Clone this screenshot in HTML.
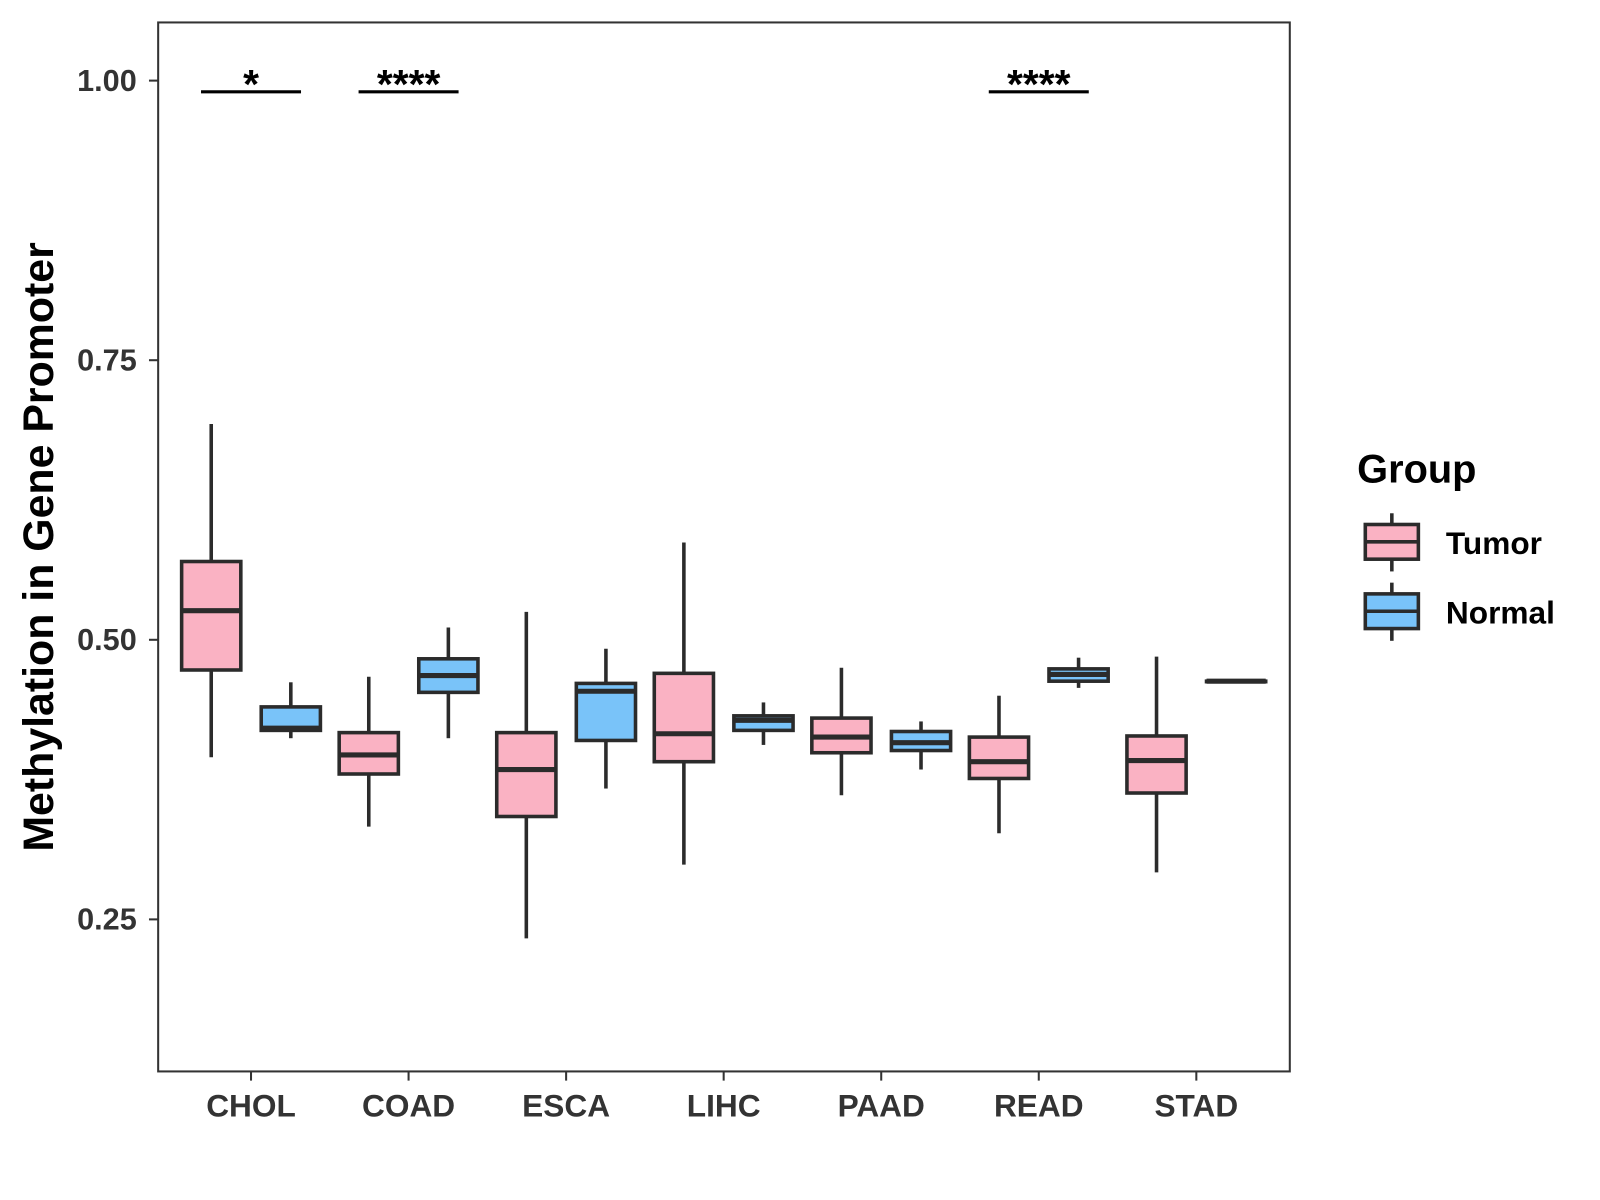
<!DOCTYPE html>
<html><head><meta charset="utf-8"><style>
html,body{margin:0;padding:0;background:#fff;}
svg{display:block;font-family:"Liberation Sans",Arial,sans-serif;}
</style></head><body>
<svg id="chart" width="1600" height="1200" viewBox="0 0 1568 1176" preserveAspectRatio="none" xmlns="http://www.w3.org/2000/svg">
<rect x="0" y="0" width="1568" height="1176" fill="#fff"/>
<rect x="155" y="22" width="1109" height="1028" fill="none" stroke="#333" stroke-width="2"/>
<g id="yaxis"></g>
<g id="xaxis"></g>
<g id="boxes"></g>
<g id="sig"></g>
<text x="52" y="536" transform="rotate(-90 52 536)" text-anchor="middle" font-size="42" font-weight="bold" fill="#000">Methylation in Gene Promoter</text>
<g>
<text x="1330" y="473" font-size="39" font-weight="bold" fill="#000">Group</text>
<g>
<line x1="1364" y1="503" x2="1364" y2="560" stroke="#2b2b2b" stroke-width="3.5"/>
<rect x="1338" y="514" width="52" height="34" fill="#FAB2C3" stroke="#2b2b2b" stroke-width="3.5"/>
<line x1="1338" y1="531" x2="1390" y2="531" stroke="#2b2b2b" stroke-width="3.5"/>
<text x="1417" y="543" font-size="31" font-weight="bold" fill="#000">Tumor</text>
</g>
<g>
<line x1="1364" y1="571" x2="1364" y2="628" stroke="#2b2b2b" stroke-width="3.5"/>
<rect x="1338" y="582" width="52" height="34" fill="#79C3F9" stroke="#2b2b2b" stroke-width="3.5"/>
<line x1="1338" y1="599" x2="1390" y2="599" stroke="#2b2b2b" stroke-width="3.5"/>
<text x="1417" y="611" font-size="31" font-weight="bold" fill="#000">Normal</text>
</g>
</g>
</svg>
<script>
const categories = ["CHOL","COAD","ESCA","LIHC","PAAD","READ","STAD"];
const yTicks = [0.25,0.50,0.75,1.00];
const yTickLabels = ["0.25","0.50","0.75","1.00"];
// [lower whisker, q1, median, q3, upper whisker]
const tumorStats = [
  [0.395,0.473,0.526,0.570,0.693],
  [0.333,0.380,0.397,0.417,0.467],
  [0.233,0.342,0.384,0.417,0.525],
  [0.299,0.391,0.416,0.470,0.587],
  [0.361,0.399,0.413,0.430,0.475],
  [0.327,0.376,0.391,0.413,0.450],
  [0.292,0.363,0.392,0.414,0.485]
];
const normalStats = [
  [0.412,0.419,0.421,0.440,0.462],
  [0.412,0.453,0.468,0.483,0.511],
  [0.367,0.410,0.454,0.461,0.492],
  [0.406,0.419,0.428,0.432,0.444],
  [0.384,0.401,0.408,0.418,0.427],
  [0.457,0.463,0.469,0.474,0.484],
  [0.463,0.463,0.463,0.463,0.463]
];
const sigCategories = ["CHOL","COAD","READ"];
const sigLabels = ["*","****","****"];
const sigValue = 0.99;

const NS="http://www.w3.org/2000/svg";
const yScale = v => 79 + (1 - v) * 1096;
const xScale = i => 246 + i * 154.4;
function mk(tag, attrs, parent){const e=document.createElementNS(NS,tag);for(const k in attrs)e.setAttribute(k,attrs[k]);parent.appendChild(e);return e;}

const ya=document.getElementById('yaxis');
yTicks.forEach((t,i)=>{
  const y=yScale(t);
  const l=mk('line',{x1:146,x2:155,y1:y,y2:y,stroke:'#333','stroke-width':2},ya);
  
  
  const tx=mk('text',{x:134,y:y+10,'text-anchor':'end','font-size':30,'font-weight':'bold',fill:'#333'},ya);
  tx.textContent=yTickLabels[i];
  
  
});
const xa=document.getElementById('xaxis');
categories.forEach((c,i)=>{
  const x=xScale(i);
  const l=mk('line',{x1:x,x2:x,y1:1050,y2:1059,stroke:'#333','stroke-width':2},xa);
  
  
  const tx=mk('text',{x:x,y:1094,'text-anchor':'middle','font-size':31,'font-weight':'bold',fill:'#333'},xa);
  tx.textContent=c;
  
  
});
const bx=document.getElementById('boxes');
function drawBox(s,cx,fill,name){
  const g=mk('g',{},bx);
  
  
  const st={stroke:'#2b2b2b','stroke-width':3.5};
  mk('line',Object.assign({x1:cx,x2:cx,y1:yScale(s[4]),y2:yScale(s[3])},st),g);
  mk('line',Object.assign({x1:cx,x2:cx,y1:yScale(s[1]),y2:yScale(s[0])},st),g);
  mk('rect',Object.assign({x:cx-29,y:yScale(s[3]),width:58,height:Math.max(0.5,yScale(s[1])-yScale(s[3])),fill:fill},st),g);
  mk('line',{x1:cx-29,x2:cx+29,y1:yScale(s[2]),y2:yScale(s[2]),stroke:'#2b2b2b','stroke-width':5},g);
}
categories.forEach((c,i)=>{
  drawBox(tumorStats[i],xScale(i)-39,'#FAB2C3','box-tumor-'+c.toLowerCase());
  drawBox(normalStats[i],xScale(i)+39,'#79C3F9','box-normal-'+c.toLowerCase());
});
const sg=document.getElementById('sig');
sigCategories.forEach((c,k)=>{
  const x=xScale(categories.indexOf(c));
  const y=yScale(sigValue);
  const l=mk('line',{x1:x-49,x2:x+49,y1:y,y2:y,stroke:'#000','stroke-width':3},sg);
  
  
  const t=mk('text',{x:x,y:y+6,'text-anchor':'middle','font-size':40,'font-weight':'bold',fill:'#000'},sg);
  t.textContent=sigLabels[k];
  
  
});
</script>
</body></html>
